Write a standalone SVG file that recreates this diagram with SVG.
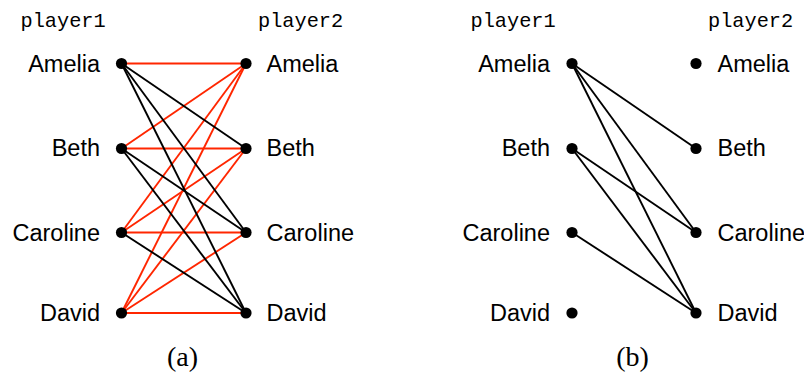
<svg xmlns="http://www.w3.org/2000/svg" width="804" height="376" viewBox="0 0 804 376">
<style>
.bg{fill:#fff}
.hdr{font-family:"Liberation Mono","DejaVu Sans Mono",monospace;font-size:20.3px;fill:#000}
.lbl{font-family:"Liberation Sans",Arial,sans-serif;font-size:23.5px;fill:#000}
.cap{font-family:"Liberation Serif","Times New Roman",serif;font-size:28px;fill:#000}
.r{stroke:#ff2600;stroke-width:1.9;fill:none}
.k{stroke:#000;stroke-width:1.9;fill:none}
.dot{fill:#000}
.e{text-anchor:end}
.m{text-anchor:middle}
</style>
<rect class="bg" x="0" y="0" width="804" height="376"/>
<g id="panel-a-connectors">
<line class="r" x1="121.5" y1="63.5" x2="246" y2="63.5"/>
<line class="r" x1="121.5" y1="148.5" x2="246" y2="63.5"/>
<line class="r" x1="121.5" y1="148.5" x2="246" y2="148.5"/>
<line class="r" x1="121.5" y1="232.5" x2="246" y2="63.5"/>
<line class="r" x1="121.5" y1="232.5" x2="246" y2="148.5"/>
<line class="r" x1="121.5" y1="232.5" x2="246" y2="232.5"/>
<line class="r" x1="121.5" y1="313" x2="246" y2="63.5"/>
<line class="r" x1="121.5" y1="313" x2="246" y2="148.5"/>
<line class="r" x1="121.5" y1="313" x2="246" y2="232.5"/>
<line class="r" x1="121.5" y1="313" x2="246" y2="313"/>
<line class="k" x1="121.5" y1="63.5" x2="246" y2="148.5"/>
<line class="k" x1="121.5" y1="63.5" x2="246" y2="232.5"/>
<line class="k" x1="121.5" y1="63.5" x2="246" y2="313"/>
<line class="k" x1="121.5" y1="148.5" x2="246" y2="232.5"/>
<line class="k" x1="121.5" y1="148.5" x2="246" y2="313"/>
<line class="k" x1="121.5" y1="232.5" x2="246" y2="313"/>
</g>
<g id="panel-b-connectors">
<line class="k" x1="572" y1="63.5" x2="696" y2="148.5"/>
<line class="k" x1="572" y1="63.5" x2="696" y2="232.5"/>
<line class="k" x1="572" y1="63.5" x2="696" y2="313"/>
<line class="k" x1="572" y1="148.5" x2="696" y2="232.5"/>
<line class="k" x1="572" y1="148.5" x2="696" y2="313"/>
<line class="k" x1="572" y1="232.5" x2="696" y2="313"/>
</g>
<g id="a-headers">
<text class="hdr" x="20.5" y="27">player1</text>
<text class="hdr" x="258" y="27">player2</text>
</g>
<g id="a-p1-amelia"><circle class="dot" cx="121.5" cy="63.5" r="5.6"/><text class="lbl e" x="100" y="72">Amelia</text></g>
<g id="a-p1-beth"><circle class="dot" cx="121.5" cy="148.5" r="5.6"/><text class="lbl e" x="100" y="156">Beth</text></g>
<g id="a-p1-caroline"><circle class="dot" cx="121.5" cy="232.5" r="5.6"/><text class="lbl e" x="100" y="240.5">Caroline</text></g>
<g id="a-p1-david"><circle class="dot" cx="121.5" cy="313" r="5.6"/><text class="lbl e" x="100" y="321">David</text></g>
<g id="a-p2-amelia"><circle class="dot" cx="246" cy="63.5" r="5.6"/><text class="lbl" x="266.5" y="72">Amelia</text></g>
<g id="a-p2-beth"><circle class="dot" cx="246" cy="148.5" r="5.6"/><text class="lbl" x="266.5" y="156">Beth</text></g>
<g id="a-p2-caroline"><circle class="dot" cx="246" cy="232.5" r="5.6"/><text class="lbl" x="266.5" y="240.5">Caroline</text></g>
<g id="a-p2-david"><circle class="dot" cx="246" cy="313" r="5.6"/><text class="lbl" x="266.5" y="321">David</text></g>
<g id="a-caption"><text class="cap m" x="182.5" y="366">(a)</text></g>
<g id="b-headers">
<text class="hdr" x="470.5" y="27">player1</text>
<text class="hdr" x="708" y="27">player2</text>
</g>
<g id="b-p1-amelia"><circle class="dot" cx="572" cy="63.5" r="5.6"/><text class="lbl e" x="550" y="72">Amelia</text></g>
<g id="b-p1-beth"><circle class="dot" cx="572" cy="148.5" r="5.6"/><text class="lbl e" x="550" y="156">Beth</text></g>
<g id="b-p1-caroline"><circle class="dot" cx="572" cy="232.5" r="5.6"/><text class="lbl e" x="550" y="240.5">Caroline</text></g>
<g id="b-p1-david"><circle class="dot" cx="572" cy="313" r="5.6"/><text class="lbl e" x="550" y="321">David</text></g>
<g id="b-p2-amelia"><circle class="dot" cx="696" cy="63.5" r="5.6"/><text class="lbl" x="717.5" y="72">Amelia</text></g>
<g id="b-p2-beth"><circle class="dot" cx="696" cy="148.5" r="5.6"/><text class="lbl" x="717.5" y="156">Beth</text></g>
<g id="b-p2-caroline"><circle class="dot" cx="696" cy="232.5" r="5.6"/><text class="lbl" x="717.5" y="240.5">Caroline</text></g>
<g id="b-p2-david"><circle class="dot" cx="696" cy="313" r="5.6"/><text class="lbl" x="717.5" y="321">David</text></g>
<g id="b-caption"><text class="cap m" x="632.5" y="366">(b)</text></g>
</svg>
